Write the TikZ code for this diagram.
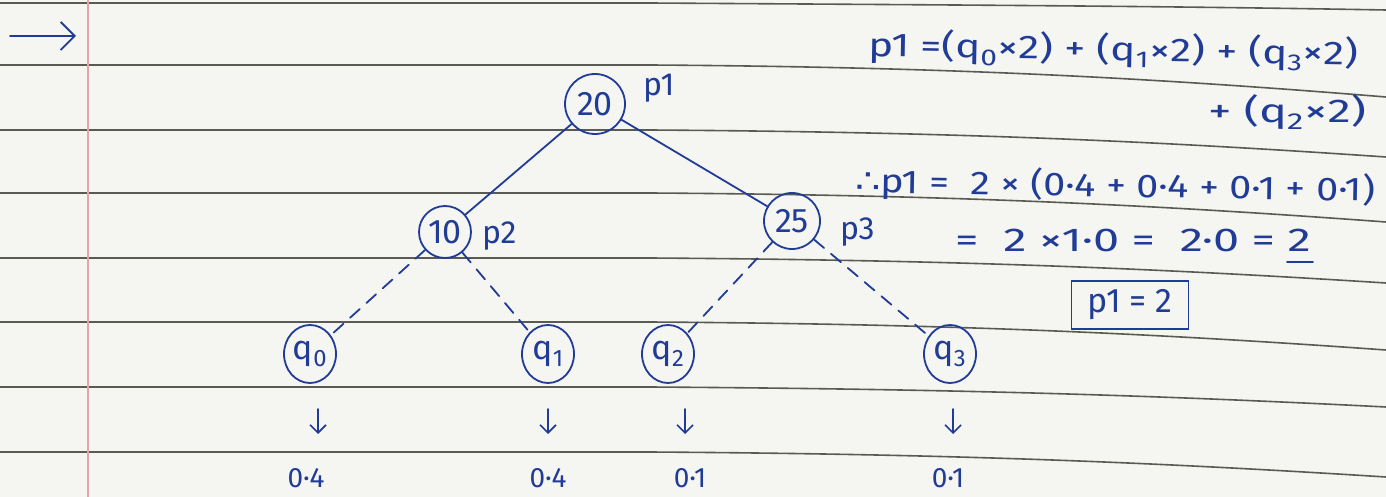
\documentclass[tikz,border=0pt]{standalone}
\usepackage{fontspec}
\usepackage{graphicx}
\setmainfont{Fira Sans}
\newfontfamily\djv{DejaVu Sans}
\usetikzlibrary{arrows.meta,shapes.geometric}
\definecolor{ink}{HTML}{203C96}
\definecolor{paper}{HTML}{F5F5F1}
\definecolor{rule}{HTML}{5A5A55}
\definecolor{margin}{HTML}{E8A3A6}
\tikzset{
  inkline/.style={draw=ink,line width=1.8pt,line cap=round},
  keynode/.style={draw=ink,line width=1.8pt,circle,minimum size=56pt,inner sep=0pt,text=ink,font=\fontsize{34}{38}\selectfont},
  leafnode/.style={draw=ink,line width=1.8pt,ellipse,minimum width=52pt,minimum height=58pt,inner sep=0pt,text=ink,font=\fontsize{34}{38}\selectfont},
  hand/.style={text=ink,font=\fontsize{32}{36}\selectfont,inner sep=0pt},
  val/.style={text=ink,font=\fontsize{28}{32}\selectfont,inner sep=0pt},
  eqn/.style={text=ink,font=\fontsize{33}{36}\selectfont,inner sep=0pt,anchor=west},
  dashedge/.style={inkline,dash pattern=on 13pt off 9pt},
  ruleline/.style={draw=rule,line width=1.6pt},
}
\newcommand{\ruled}[2]{\draw[ruleline] (0,#1) -- (650,#1) .. controls (950,#1+2) and (1150,#1+0.4*#2-0.4*#1) .. (1386,#2);}
\begin{document}
\begin{tikzpicture}[x=1pt,y=-1pt]
\useasboundingbox (0,0) rectangle (1386,497);
\fill[paper] (0,0) rectangle (1386,497);
% ruled lines
\ruled{3}{10}
\ruled{65}{97}
\ruled{130}{157}
\ruled{193}{222}
\ruled{258}{283}
\ruled{322}{350}
\ruled{387}{407}
\ruled{452}{477}
\draw[margin,line width=1.2pt] (88,0) -- (88,497);
% top-left arrow
\coordinate (a0) at (10,36);
\coordinate (a1) at (76,36);
\draw[inkline,-{Straight Barb[length=14pt,width=28pt,line width=1.8pt]}] (a0) -- (a1);
% tree
\node[keynode,minimum size=60pt] (n20) at (595,104) {20};
\node[keynode,minimum size=52pt] (n10) at (445,232) {10};
\node[keynode] (n25) at (792,221) {25};
\node[leafnode] (q0) at (310,354) {q\textsubscript{0}};
\node[leafnode] (q1) at (548,354) {q\textsubscript{1}};
\node[leafnode] (q2) at (668,354) {q\textsubscript{2}};
\node[leafnode] (q3) at (950,354) {q\textsubscript{3}};
\node[hand,anchor=west] (lp1) at (643,88) {p1};
\node[hand,anchor=west] (lp2) at (482,236) {p2};
\node[hand,anchor=west] (lp3) at (840,232) {p3};
\draw[inkline] (n20) -- (n10);
\draw[inkline] (n20) -- (n25);
\draw[dashedge] (n10) -- (q0);
\draw[dashedge] (n10) -- (q1);
\draw[dashedge] (n25) -- (q2);
\draw[dashedge] (n25) -- (q3);
% probabilities
\node[val] (v0) at (306,478) {0·4};
\node[val] (v1) at (548,478) {0·4};
\node[val] (v2) at (690,478) {0·1};
\node[val] (v3) at (948,478) {0·1};
\foreach \q/\x in {q0/318,q1/548,q2/685,q3/953}{
  \coordinate (\q t) at (\x,409);
  \coordinate (\q b) at (\x,434);
  \draw[inkline,-{Straight Barb[length=8pt,width=16pt,line width=1.6pt]}] (\q t) -- (\q b);
}
% equations
\node[eqn,rotate=-1] (e1) at (868,46) {\scalebox{1.28}[1]{p1 =(q\textsubscript{0}×2) + (q\textsubscript{1}×2) + (q\textsubscript{3}×2)}};
\node[eqn] (e2) at (1208,112) {\scalebox{1.42}[1]{+ (q\textsubscript{2}×2)}};
\node[eqn,rotate=-1] (e3) at (855,182) {\scalebox{1.2}[1]{{\djv ∴}p1 = \ 2 × (0·4 + 0·4 + 0·1 + 0·1)}};
\node[eqn] (e4) at (955,240) {\scalebox{1.42}[1]{= \ 2 ×1·0 = \ 2·0 = 2}};
\draw[inkline] ([xshift=-24pt,yshift=-10pt]e4.south east) -- ([xshift=2pt,yshift=-10pt]e4.south east);
\node[hand,font=\fontsize{34}{38}\selectfont,draw=ink,line width=1.8pt,inner xsep=16pt,inner ysep=9pt] (box) at (1130,305) {p1 = 2};
\end{tikzpicture}
\end{document}
